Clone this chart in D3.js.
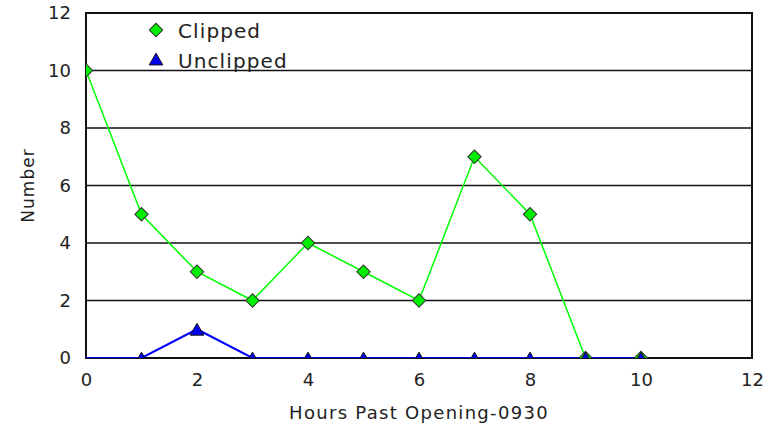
<!DOCTYPE html>
<html>
<head>
<meta charset="utf-8">
<script src="https://cdn.jsdelivr.net/npm/d3@7"></script>
<style>
  body { margin: 0; background: #fff; }
  text { font-family: "DejaVu Sans", Verdana, sans-serif; fill: #222; }
</style>
</head>
<body>
<svg width="775" height="430"></svg>
<script>
// data
var hours = [0, 1, 2, 3, 4, 5, 6, 7, 8, 9, 10];
var clipped = [10, 5, 3, 2, 4, 3, 2, 7, 5, 0, 0];
var unclipped = [0, 0, 1, 0, 0, 0, 0, 0, 0, 0, 0];
var xTicks = [0, 2, 4, 6, 8, 10, 12];
var yTicks = [0, 2, 4, 6, 8, 10, 12];

var svg = d3.select("svg"),
    margin = {left: 86, right: 23, top: 13, bottom: 72},
    width = +svg.attr("width"),
    height = +svg.attr("height");

var x = d3.scaleLinear().domain([0, 12]).range([margin.left, width - margin.right]);
var y = d3.scaleLinear().domain([0, 12]).range([height - margin.bottom, margin.top]);

svg.append("clipPath").attr("id", "plot")
    .append("rect")
    .attr("x", x(0)).attr("y", y(12))
    .attr("width", x(12) - x(0)).attr("height", y(0) - y(12));

// grid lines
svg.append("g").selectAll("line")
    .data(yTicks.filter(function (d) { return d > 0; }))
    .enter().append("line")
    .attr("x1", x(0)).attr("x2", x(12))
    .attr("y1", function (d) { return y(d); })
    .attr("y2", function (d) { return y(d); })
    .attr("stroke", "#111").attr("stroke-width", 1.6);

// frame
svg.append("rect")
    .attr("x", x(0)).attr("y", y(12))
    .attr("width", x(12) - x(0)).attr("height", y(0) - y(12))
    .attr("fill", "none").attr("stroke", "#111").attr("stroke-width", 2);

// axes
var yAxis = svg.append("g")
    .attr("transform", "translate(" + x(0) + ",0)")
    .call(d3.axisLeft(y).tickValues(yTicks).tickSize(0).tickPadding(15));
var xAxis = svg.append("g")
    .attr("transform", "translate(0," + y(0) + ")")
    .call(d3.axisBottom(x).tickValues(xTicks).tickSize(0).tickPadding(15));
[yAxis, xAxis].forEach(function (a) {
    a.select(".domain").remove();
    a.selectAll("text").style("font-size", "18px").attr("fill", "#222");
});

svg.append("text")
    .attr("transform", "translate(34," + (y(6)) + ") rotate(-90)")
    .attr("text-anchor", "middle")
    .style("font-size", "17px").style("letter-spacing", "1px")
    .text("Number");
svg.append("text")
    .attr("x", (x(0) + x(12)) / 2).attr("y", 419)
    .attr("text-anchor", "middle")
    .style("font-size", "18px").style("letter-spacing", "1.3px")
    .text("Hours Past Opening-0930");

var line = d3.line()
    .x(function (d, i) { return x(hours[i]); })
    .y(function (d) { return y(d); });

var plot = svg.append("g").attr("clip-path", "url(#plot)");

plot.append("path").datum(clipped)
    .attr("d", line)
    .attr("fill", "none").attr("stroke", "#00ff00").attr("stroke-width", 1.5);
plot.append("path").datum(unclipped)
    .attr("d", line)
    .attr("fill", "none").attr("stroke", "#0000ff").attr("stroke-width", 2);

var diamond = d3.symbol().type(d3.symbolSquare).size(90);
var tri = d3.symbol().type(d3.symbolTriangle).size(80);

plot.selectAll(".dia").data(clipped).enter().append("path")
    .attr("class", "dia")
    .attr("d", diamond)
    .attr("transform", function (d, i) { return "translate(" + x(hours[i]) + "," + y(d) + ") rotate(45)"; })
    .attr("fill", "#00ee00").attr("stroke", "#333").attr("stroke-width", 1);

plot.selectAll(".tri").data(unclipped).enter().append("path")
    .attr("class", "tri")
    .attr("d", tri)
    .attr("transform", function (d, i) { return "translate(" + x(hours[i]) + "," + (y(d) + 2) + ")"; })
    .attr("fill", "#0000ee").attr("stroke", "#111").attr("stroke-width", 1)
    .style("display", function (d, i) { return i === 0 ? "none" : null; });

// legend
var legend = svg.append("g").attr("transform", "translate(156,0)");
legend.append("path").attr("d", diamond)
    .attr("transform", "translate(0,30) rotate(45)")
    .attr("fill", "#00ee00").attr("stroke", "#333");
legend.append("path").attr("d", tri)
    .attr("transform", "translate(0,61)")
    .attr("fill", "#0000ee").attr("stroke", "#111");
legend.append("text").attr("x", 22).attr("y", 38)
    .style("font-size", "20px").style("letter-spacing", "1.1px").text("Clipped");
legend.append("text").attr("x", 22).attr("y", 68)
    .style("font-size", "20px").style("letter-spacing", "1.1px").text("Unclipped");
</script>
</body>
</html>
